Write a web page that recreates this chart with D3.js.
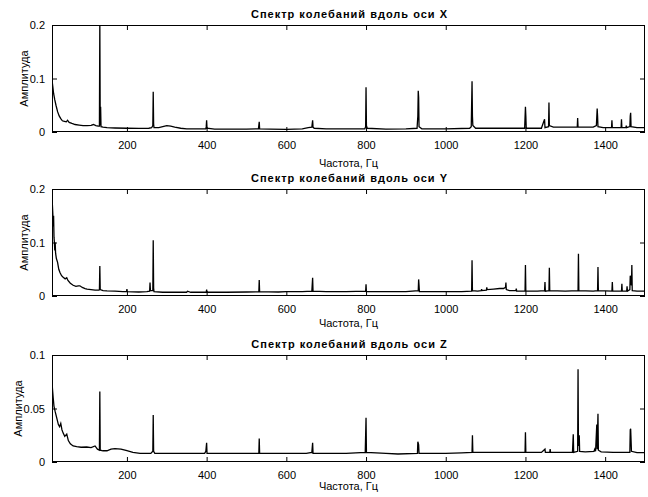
<!DOCTYPE html>
<html>
<head>
<meta charset="utf-8">
<script src="https://cdn.jsdelivr.net/npm/d3@7"></script>
<style>
  body { margin: 0; background: #fff; }
  svg { display: block; font-family: "Liberation Sans", Arial, sans-serif; }
  .tick line { stroke: #000; }
  .tick text { fill: #000; font-size: 11px; }
</style>
</head>
<body>
<svg id="chart"></svg>
<script>
// spectra: [frequency Hz, amplitude]
const specX = [
  [12,0.097],[14,0.085],[16,0.072],[19,0.06],[22,0.05],[26,0.038],[30,0.03],[34,0.025],[38,0.021],
  [43,0.02],[48,0.019],[51,0.022],[55,0.018],[62,0.016],[70,0.014],[80,0.013],[90,0.012],[100,0.012],
  [110,0.0125],[116,0.014],[122,0.012],[128,0.011],[131,0.011],[132,0.21],[133,0.012],[134,0.047],
  [135,0.01],[140,0.009],[150,0.008],[170,0.0075],[200,0.007],[230,0.0068],[255,0.007],[262,0.008],
  [265,0.012],[266,0.075],[267,0.015],[268,0.008],[280,0.008],[290,0.01],[300,0.012],[310,0.011],
  [320,0.009],[335,0.007],[350,0.006],[380,0.006],[398,0.006],[399,0.01],[400,0.022],[401,0.007],
  [420,0.0055],[460,0.0055],[500,0.0055],[530,0.006],[532,0.019],[533,0.006],[560,0.0055],[600,0.005],
  [640,0.006],[655,0.008],[664,0.009],[666,0.022],[667,0.009],[670,0.007],[700,0.006],[750,0.006],
  [797,0.006],[799,0.01],[800,0.0835],[801,0.012],[803,0.007],[850,0.0055],[900,0.006],[928,0.007],
  [930,0.03],[931,0.077],[932,0.065],[933,0.01],[940,0.006],[1000,0.006],[1060,0.007],[1064,0.01],
  [1066,0.095],[1067,0.03],[1068,0.012],[1075,0.007],[1100,0.007],[1150,0.007],[1198,0.007],
  [1200,0.047],[1201,0.03],[1202,0.007],[1240,0.007],[1248,0.024],[1249,0.008],[1258,0.01],
  [1259,0.055],[1260,0.012],[1270,0.009],[1300,0.009],[1330,0.009],[1331,0.026],[1332,0.009],
  [1370,0.009],[1378,0.012],[1380,0.044],[1381,0.03],[1382,0.01],[1395,0.008],[1416,0.008],
  [1417,0.022],[1418,0.008],[1440,0.008],[1441,0.024],[1442,0.008],[1452,0.008],[1453,0.012],
  [1454,0.008],[1462,0.01],[1463,0.03],[1464,0.036],[1465,0.01],[1480,0.008],[1500,0.008]
];

const specY = [
  [12,0.175],[13,0.17],[14,0.155],[15,0.13],[16,0.15],[17,0.11],[18,0.1],[19,0.085],[20,0.1],
  [21,0.08],[23,0.07],[26,0.063],[29,0.05],[32,0.044],[36,0.038],[40,0.035],[45,0.032],[49,0.034],
  [52,0.029],[58,0.024],[65,0.02],[72,0.018],[78,0.019],[82,0.019],[88,0.016],[95,0.014],[100,0.013],
  [110,0.012],[120,0.011],[130,0.011],[131,0.012],[132,0.056],[133,0.012],[140,0.01],[150,0.0095],
  [170,0.009],[190,0.008],[199,0.008],[200,0.013],[201,0.008],[230,0.0075],[250,0.008],[257,0.009],
  [258,0.025],[259,0.01],[265,0.01],[266,0.104],[267,0.015],[268,0.008],[290,0.007],[350,0.007],
  [352,0.009],[360,0.007],[399,0.007],[400,0.012],[401,0.007],[450,0.007],[500,0.0075],[531,0.008],
  [532,0.03],[533,0.008],[580,0.0075],[600,0.008],[640,0.008],[664,0.009],[666,0.034],[667,0.009],
  [700,0.008],[750,0.008],[799,0.009],[800,0.022],[801,0.008],[850,0.008],[900,0.008],[931,0.01],
  [932,0.031],[933,0.02],[934,0.008],[1000,0.008],[1040,0.008],[1065,0.009],[1066,0.067],[1067,0.01],
  [1080,0.009],[1089,0.01],[1090,0.013],[1091,0.01],[1102,0.011],[1103,0.016],[1104,0.012],
  [1120,0.013],[1135,0.014],[1145,0.014],[1150,0.016],[1151,0.025],[1152,0.012],[1160,0.01],
  [1176,0.01],[1177,0.014],[1178,0.009],[1199,0.009],[1200,0.058],[1201,0.009],[1230,0.009],
  [1248,0.01],[1249,0.026],[1250,0.009],[1259,0.01],[1260,0.053],[1261,0.01],[1300,0.009],
  [1332,0.01],[1333,0.079],[1334,0.01],[1370,0.009],[1381,0.01],[1382,0.054],[1383,0.01],
  [1417,0.009],[1418,0.026],[1419,0.009],[1441,0.009],[1442,0.023],[1443,0.009],[1454,0.009],
  [1455,0.018],[1456,0.009],[1462,0.012],[1463,0.038],[1466,0.02],[1467,0.058],[1468,0.01],
  [1480,0.009],[1500,0.009]
];

const specZ = [
  [12,0.088],[13,0.069],[15,0.06],[17,0.052],[20,0.047],[24,0.041],[28,0.035],[31,0.033],[34,0.036],
  [37,0.03],[40,0.027],[44,0.024],[49,0.026],[53,0.02],[58,0.017],[65,0.015],[74,0.0143],[85,0.0138],
  [99,0.014],[110,0.0135],[120,0.015],[126,0.012],[131,0.011],[132,0.066],[133,0.011],[140,0.0105],
  [150,0.0105],[160,0.012],[170,0.0125],[185,0.012],[200,0.0106],[215,0.009],[233,0.0081],[260,0.008],
  [265,0.01],[266,0.044],[267,0.01],[270,0.008],[300,0.008],[350,0.008],[395,0.008],[398,0.01],
  [400,0.018],[401,0.008],[450,0.008],[500,0.008],[531,0.008],[532,0.022],[533,0.008],[600,0.008],
  [650,0.008],[664,0.009],[666,0.018],[667,0.008],[700,0.008],[750,0.008],[798,0.009],[800,0.0414],
  [801,0.009],[850,0.008],[880,0.0075],[929,0.008],[930,0.019],[932,0.016],[933,0.008],[1000,0.008],
  [1040,0.0085],[1066,0.009],[1067,0.025],[1068,0.009],[1100,0.009],[1150,0.009],[1199,0.009],
  [1200,0.0277],[1201,0.009],[1240,0.009],[1249,0.012],[1250,0.009],[1261,0.009],[1262,0.012],
  [1263,0.009],[1300,0.009],[1318,0.009],[1320,0.026],[1321,0.009],[1331,0.01],[1332,0.0866],
  [1333,0.015],[1335,0.025],[1336,0.01],[1350,0.0095],[1372,0.01],[1374,0.012],[1376,0.01],
  [1379,0.035],[1380,0.012],[1382,0.045],[1383,0.011],[1390,0.0095],[1420,0.009],[1462,0.009],
  [1463,0.03],[1464,0.031],[1466,0.01],[1480,0.0087],[1500,0.0087]
];

const titles = ['Спектр колебаний вдоль оси X', 'Спектр колебаний вдоль оси Y', 'Спектр колебаний вдоль оси Z'];
const xTicks = [200, 400, 600, 800, 1000, 1200, 1400];
const yTicksXY = [0, 0.1, 0.2];
const yTicksZ = [0, 0.05, 0.1];
const yMax = [0.2, 0.2, 0.1];

const width = 648, height = 497;
const left = 52, right = 645;
const tops = [25, 189, 355];
const labelGap = [35, 31, 28];   // x label baseline below the plot
const yLabelX = [28, 28, 22];    // y label baseline position
const plotH = 107;

const svg = d3.select('#chart').attr('width', width).attr('height', height);

const x = d3.scaleLinear().domain([12, 1500]).range([left, right]);

const panels = [
  {data: specX, title: titles[0], yt: yTicksXY, ymax: yMax[0]},
  {data: specY, title: titles[1], yt: yTicksXY, ymax: yMax[1]},
  {data: specZ, title: titles[2], yt: yTicksZ, ymax: yMax[2]}
];

panels.forEach((p, i) => {
  const top = tops[i], bottom = top + plotH;
  const y = d3.scaleLinear().domain([0, p.ymax]).range([bottom, top]);
  const g = svg.append('g');

  g.append('clipPath').attr('id', 'clip' + i)
    .append('rect').attr('x', left).attr('y', top).attr('width', right - left).attr('height', plotH);

  const line = d3.line().x(d => x(d[0])).y(d => y(d[1]));
  g.append('path')
    .datum(p.data)
    .attr('clip-path', 'url(#clip' + i + ')')
    .attr('fill', 'none')
    .attr('stroke', '#000')
    .attr('stroke-width', 1.3)
    .attr('d', line);

  const fmt = d => String(d);

  g.append('g').attr('transform', 'translate(0,' + bottom + ')')
    .call(d3.axisBottom(x).tickValues(xTicks).tickSize(-5).tickSizeOuter(0).tickPadding(9).tickFormat(fmt))
    .call(s => s.select('.domain').remove());
  g.append('g').attr('transform', 'translate(0,' + top + ')')
    .call(d3.axisTop(x).tickValues(xTicks).tickSize(-5).tickSizeOuter(0).tickFormat(''))
    .call(s => s.select('.domain').remove());
  g.append('g').attr('transform', 'translate(' + left + ',0)')
    .call(d3.axisLeft(y).tickValues(p.yt).tickSize(-5).tickSizeOuter(0).tickPadding(7).tickFormat(fmt))
    .call(s => s.select('.domain').remove());
  g.append('g').attr('transform', 'translate(' + right + ',0)')
    .call(d3.axisRight(y).tickValues(p.yt).tickSize(-5).tickSizeOuter(0).tickFormat(''))
    .call(s => s.select('.domain').remove());

  g.append('rect')
    .attr('x', left + 0.5).attr('y', top + 0.5)
    .attr('width', right - left - 1).attr('height', plotH - 1)
    .attr('fill', 'none').attr('stroke', '#000').attr('stroke-width', 1);

  g.append('text')
    .attr('x', (left + right) / 2 + 1).attr('y', top - 7)
    .attr('text-anchor', 'middle')
    .attr('font-size', 11).attr('font-weight', 'bold')
    .attr('letter-spacing', 1)
    .text(p.title);

  g.append('text')
    .attr('x', (left + right) / 2).attr('y', bottom + labelGap[i])
    .attr('text-anchor', 'middle')
    .attr('font-size', 11)
    .text('Частота, Гц');

  g.append('text')
    .attr('transform', 'translate(' + yLabelX[i] + ',' + (top + plotH / 2) + ') rotate(-90)')
    .attr('text-anchor', 'middle')
    .attr('font-size', 11)
    .text('Амплитуда');
});
</script>
</body>
</html>
